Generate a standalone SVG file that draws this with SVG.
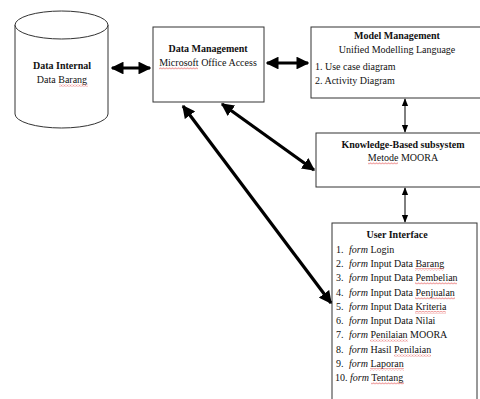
<svg xmlns="http://www.w3.org/2000/svg" width="480" height="399" viewBox="0 0 480 399">
<style>
text{font-family:"Liberation Serif","Times New Roman",serif;font-size:10px;fill:#111}
.b{font-weight:bold}
.i{font-style:italic}
.c{text-anchor:middle}
.box{fill:#fff;stroke:#333;stroke-width:1}
.thick{stroke:#000;stroke-width:3.2;fill:none}
.thin{stroke:#000;stroke-width:1;fill:none}
.sq{fill:url(#wave)}
</style>
<defs>
<pattern id="wave" patternUnits="userSpaceOnUse" width="3" height="2.5">
<path d="M0,2 L1.5,0.5 L3,2" fill="none" stroke="#d33" stroke-width="0.7"/>
</pattern>
<marker id="ah" viewBox="0 0 10 10" refX="9" refY="5" markerWidth="4" markerHeight="4" orient="auto-start-reverse" markerUnits="strokeWidth">
<path d="M0,0 L10,5 L0,10 z" fill="#000"/>
</marker>
<marker id="as" viewBox="0 0 10 10" refX="9" refY="5" markerWidth="8" markerHeight="8" orient="auto-start-reverse" markerUnits="strokeWidth">
<path d="M0,1 L10,5 L0,9 z" fill="#000"/>
</marker>
</defs>
<g id="data-internal">
<path class="box" d="M15,25 L15,114 A46.5,14 0 0 0 108,114 L108,25"/>
<ellipse class="box" cx="61.5" cy="25" rx="46.5" ry="14"/>
<text class="b c" x="62" y="69">Data Internal</text>
<text class="c" x="62" y="83">Data Barang</text>
<rect class="sq" x="59" y="84" width="29" height="2.5"/>
</g>
<g id="data-management">
<rect class="box" x="153" y="27" width="111" height="75"/>
<text class="b c" x="208" y="52">Data Management</text>
<text class="c" x="208" y="66">Microsoft Office Access</text>
<rect class="sq" x="159" y="67" width="39" height="2.5"/>
</g>
<g id="model-management">
<rect class="box" x="311" y="27" width="175" height="71"/>
<text class="b c" x="397" y="39">Model Management</text>
<text class="c" x="397" y="53">Unified Modelling Language</text>
<text x="315" y="70">1. Use case diagram</text>
<text x="315" y="84">2. Activity Diagram</text>
</g>
<g id="knowledge">
<rect class="box" x="316" y="133" width="170" height="54"/>
<text class="b c" x="403" y="148">Knowledge-Based subsystem</text>
<text class="c" x="403" y="161">Metode MOORA</text>
<rect class="sq" x="368" y="162" width="30" height="2.5"/>
</g>
<g id="user-interface">
<rect class="box" x="332" y="223" width="145" height="185"/>
<text class="b c" x="397" y="238">User Interface</text>
<text x="336" y="253">1.<tspan class="i" x="349">form</tspan> Login</text>
<text x="336" y="267">2.<tspan class="i" x="349">form</tspan> Input Data Barang</text>
<text x="336" y="281">3.<tspan class="i" x="349">form</tspan> Input Data Pembelian</text>
<text x="336" y="296">4.<tspan class="i" x="349">form</tspan> Input Data Penjualan</text>
<text x="336" y="310">5.<tspan class="i" x="349">form</tspan> Input Data Kriteria</text>
<text x="336" y="324">6.<tspan class="i" x="349">form</tspan> Input Data Nilai</text>
<text x="336" y="338">7.<tspan class="i" x="349">form</tspan> Penilaian MOORA</text>
<text x="336" y="353">8.<tspan class="i" x="349">form</tspan> Hasil Penilaian</text>
<text x="336" y="367">9.<tspan class="i" x="349">form</tspan> Laporan</text>
<text x="335" y="381">10.<tspan class="i" x="350">form</tspan> Tentang</text>
<rect class="sq" x="415" y="268" width="29" height="2.5"/>
<rect class="sq" x="415" y="282" width="42" height="2.5"/>
<rect class="sq" x="415" y="297" width="40" height="2.5"/>
<rect class="sq" x="415" y="311" width="31" height="2.5"/>
<rect class="sq" x="370" y="339" width="38" height="2.5"/>
<rect class="sq" x="394" y="354" width="37" height="2.5"/>
<rect class="sq" x="370" y="368" width="34" height="2.5"/>
<rect class="sq" x="371" y="382" width="33" height="2.5"/>
</g>
<g id="connectors">
<line class="thick" x1="112" y1="68" x2="150" y2="68" marker-start="url(#ah)" marker-end="url(#ah)"/>
<line class="thick" x1="267" y1="63" x2="308" y2="63" marker-start="url(#ah)" marker-end="url(#ah)"/>
<line class="thick" x1="222" y1="104" x2="314" y2="170" marker-start="url(#ah)" marker-end="url(#ah)"/>
<line class="thick" x1="183" y1="106" x2="331" y2="303" marker-start="url(#ah)" marker-end="url(#ah)"/>
<line class="thin" x1="405" y1="99" x2="405" y2="132" marker-start="url(#as)" marker-end="url(#as)"/>
<line class="thin" x1="405" y1="188" x2="405" y2="222" marker-start="url(#as)" marker-end="url(#as)"/>
</g>
</svg>
